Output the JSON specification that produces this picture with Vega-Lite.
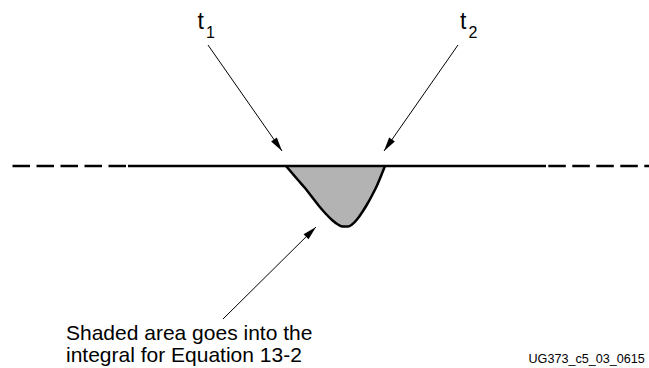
{
  "$schema": "https://vega.github.io/schema/vega-lite/v6.json",
  "width": 649,
  "height": 368,
  "autosize": {"type": "none"},
  "padding": 0,
  "background": "white",
  "config": {"view": {"stroke": null}, "font": "Liberation Sans"},
  "datasets": {
    "baseline": [
      {"seg": "left", "style": "dashed", "x": 1.25, "y": 0},
      {"seg": "left", "style": "dashed", "x": 12.8, "y": 0},
      {"seg": "mid", "style": "solid", "x": 12.8, "y": 0},
      {"seg": "mid", "style": "solid", "x": 54.6, "y": 0},
      {"seg": "right", "style": "dashed", "x": 54.83, "y": 0},
      {"seg": "right", "style": "dashed", "x": 65.0, "y": 0}
    ],
    "pulse": [
      {"x": 28.6, "y": 0},
      {"x": 29.2, "y": -0.7},
      {"x": 29.8, "y": -1.4},
      {"x": 30.5, "y": -2.2},
      {"x": 31.2, "y": -3.1},
      {"x": 31.9, "y": -4.0},
      {"x": 32.6, "y": -4.8},
      {"x": 33.2, "y": -5.4},
      {"x": 33.8, "y": -5.85},
      {"x": 34.3, "y": -6.05},
      {"x": 34.8, "y": -6.05},
      {"x": 35.2, "y": -5.85},
      {"x": 35.7, "y": -5.35},
      {"x": 36.2, "y": -4.65},
      {"x": 36.7, "y": -3.85},
      {"x": 37.2, "y": -2.95},
      {"x": 37.7, "y": -1.95},
      {"x": 38.1, "y": -1.0},
      {"x": 38.5, "y": 0}
    ],
    "arrows": [
      {"name": "t1", "x": 20.8, "y": 12.1, "x2": 28.2, "y2": 1.5, "angle": 145.1},
      {"name": "t2", "x": 45.8, "y": 12.1, "x2": 38.4, "y2": 1.5, "angle": 214.9},
      {"name": "area", "x": 22.3, "y": -15.3, "x2": 31.6, "y2": -6.1, "angle": 45.3}
    ],
    "tlabels": [
      {"text": "t", "x": 19.75, "y": 13.7},
      {"text": "t", "x": 46.0, "y": 13.7}
    ],
    "subs": [
      {"text": "1", "x": 20.6, "y": 12.8},
      {"text": "2", "x": 46.85, "y": 12.8}
    ],
    "note": [
      {"text": "Shaded area goes into the", "x": 6.6, "y": -17.4},
      {"text": "integral for Equation 13-2", "x": 6.6, "y": -19.6}
    ],
    "figid": [
      {"text": "UG373_c5_03_0615", "x": 52.85, "y": -19.65}
    ]
  },
  "encoding": {
    "x": {"field": "x", "type": "quantitative", "scale": {"domain": [0, 64.9], "nice": false, "zero": false}, "axis": null},
    "y": {"field": "y", "type": "quantitative", "scale": {"domain": [-20.2, 16.6], "nice": false, "zero": false}, "axis": null}
  },
  "layer": [
    {
      "data": {"name": "pulse"},
      "mark": {"type": "area", "interpolate": "monotone", "color": "#b3b3b3"},
      "encoding": {"y2": {"datum": 0}}
    },
    {
      "data": {"name": "baseline"},
      "mark": {"type": "line", "color": "black", "strokeWidth": 2.5},
      "encoding": {
        "detail": {"field": "seg"},
        "strokeDash": {"field": "style", "type": "nominal", "scale": {"domain": ["dashed", "solid"], "range": [[17.5, 6.5], [1, 0]]}, "legend": null}
      }
    },
    {
      "data": {"name": "pulse"},
      "mark": {"type": "line", "interpolate": "monotone", "color": "black", "strokeWidth": 2.5},
      "encoding": {}
    },
    {
      "data": {"name": "arrows"},
      "mark": {"type": "rule", "color": "black", "strokeWidth": 1},
      "encoding": {
        "x2": {"field": "x2"},
        "y2": {"field": "y2"}
      }
    },
    {
      "data": {"name": "arrows"},
      "mark": {"type": "point", "filled": true, "color": "black", "opacity": 1, "shape": "M0,0L-0.5,2L0.5,2Z", "size": 196},
      "encoding": {
        "x": {"field": "x2", "type": "quantitative"},
        "y": {"field": "y2", "type": "quantitative"},
        "angle": {"field": "angle", "type": "quantitative", "scale": null}
      }
    },
    {
      "data": {"name": "tlabels"},
      "mark": {"type": "text", "align": "left", "baseline": "alphabetic", "fontSize": 23, "color": "black"},
      "encoding": {"text": {"field": "text"}}
    },
    {
      "data": {"name": "subs"},
      "mark": {"type": "text", "align": "left", "baseline": "alphabetic", "fontSize": 16, "color": "black"},
      "encoding": {"text": {"field": "text"}}
    },
    {
      "data": {"name": "note"},
      "mark": {"type": "text", "align": "left", "baseline": "alphabetic", "fontSize": 21, "color": "black"},
      "encoding": {"text": {"field": "text"}}
    },
    {
      "data": {"name": "figid"},
      "mark": {"type": "text", "align": "left", "baseline": "alphabetic", "fontSize": 12.6, "color": "black"},
      "encoding": {"text": {"field": "text"}}
    }
  ]
}
